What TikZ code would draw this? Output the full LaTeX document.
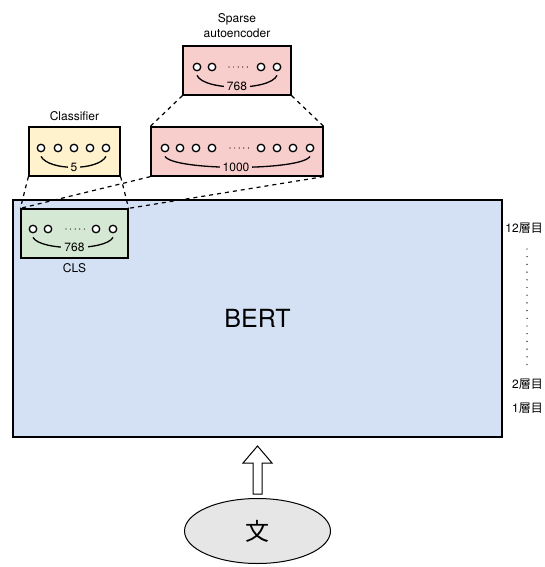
\documentclass[tikz,border=0pt]{standalone}
\usepackage{fontspec}
\setmainfont{TeX Gyre Heros}
\newfontfamily\jpfont{Noto Sans CJK JP}
\usepackage{tikz}
\usepackage{xcolor}
\usetikzlibrary{positioning, shapes.geometric}

\definecolor{bertblue}{HTML}{D4E1F5}
\definecolor{clsgreen}{HTML}{D5E8D4}
\definecolor{clfyellow}{HTML}{FFF2CC}
\definecolor{saered}{HTML}{F8CECC}
\definecolor{sentgray}{HTML}{E6E6E6}

\begin{document}
\begin{tikzpicture}[x=1pt, y=-1pt, font=\fontsize{12}{15}\selectfont]
  % Style definitions
  \tikzstyle{box} = [rectangle, draw=black, line width=1.3pt, minimum height=49pt, inner sep=0pt]
  \tikzstyle{neuron} = [circle, draw=black, fill=white, line width=1.3pt, minimum size=7.5pt, inner sep=0pt]
  \tikzstyle{bracecurve} = [line width=1.3pt]
  \tikzstyle{countlabel} = [inner xsep=3pt, inner ysep=0pt]
  \tikzstyle{gapdots} = [line width=1.2pt, line cap=round, dash pattern=on 0pt off 4.6pt]
  \tikzstyle{zoomline} = [line width=1.2pt, dash pattern=on 4pt off 4pt]
  \tikzstyle{layerdots} = [line width=1.4pt, line cap=round, dash pattern=on 0pt off 7.7pt]
  \tikzstyle{boxlabel} = [inner sep=0pt]

  \useasboundingbox (0,0) rectangle (544,567);

  % BERT and CLS
  \node (bert) [box, fill=bertblue, minimum width=489pt, minimum height=237pt] at (257.5,318.5) {\fontsize{25}{30}\selectfont BERT};
  \node (cls) [box, fill=clsgreen, minimum width=107pt] at (74.5,233.5) {};
  \node (clsname) [boxlabel] at (74.5,268) {CLS};
  \foreach \x [count=\i] in {33,48,96,113}
    \node (cl\i) [neuron] at (\x,229) {};
  \draw[gapdots, shorten <=18pt, shorten >=10pt] (cl2.center) -- (cl3.center);
  \draw[bracecurve] ([yshift=-4pt]cl1.south) .. controls (40,251) and (106,251) .. ([yshift=-4pt]cl4.south);
  \node (clnum) [countlabel, fill=clsgreen] at (74.5,247) {768};

  % Classifier
  \node (clf) [box, fill=clfyellow, minimum width=91pt] at (74.5,151.5) {};
  \node (clfname) [boxlabel] at (74.5,116) {Classifier};
  \foreach \x [count=\i] in {41,58,74,90,106}
    \node (cf\i) [neuron] at (\x,148) {};
  \draw[bracecurve] ([yshift=-4pt]cf1.south) .. controls (49,171) and (98,171) .. ([yshift=-4pt]cf5.south);
  \node (cfnum) [countlabel, fill=clfyellow] at (74,167) {5};

  % Sparse autoencoder (hidden layer)
  \node (wide) [box, fill=saered, minimum width=172pt] at (237,151.5) {};
  \foreach \x [count=\i] in {165,180,196,212,261,277,293,310}
    \node (wd\i) [neuron] at (\x,148) {};
  \draw[gapdots, shorten <=18pt, shorten >=11pt] (wd4.center) -- (wd5.center);
  \draw[bracecurve] ([yshift=-4pt]wd1.south) .. controls (174,171) and (301,171) .. ([yshift=-4pt]wd8.south);
  \node (wdnum) [countlabel, fill=saered] at (236,167) {1000};

  % Sparse autoencoder (input)
  \node (sae) [box, fill=saered, minimum width=108pt] at (237,70.5) {};
  \node (saename) [boxlabel, align=center] at (237,26) {Sparse\\autoencoder};
  \foreach \x [count=\i] in {197,212,261,277}
    \node (sa\i) [neuron] at (\x,67) {};
  \draw[gapdots, shorten <=17pt, shorten >=11pt] (sa2.center) -- (sa3.center);
  \draw[bracecurve] ([yshift=-4pt]sa1.south) .. controls (204,91) and (270,91) .. ([yshift=-4pt]sa4.south);
  \node (sanum) [countlabel, fill=saered] at (237,86) {768};

  % Zoom lines
  \draw[zoomline] (sae.south west) -- (wide.north west);
  \draw[zoomline] (sae.south east) -- (wide.north east);
  \draw[zoomline] (wide.south west) -- (cls.north west);
  \draw[zoomline] (wide.south east) -- (cls.north east);
  \draw[zoomline] (clf.south west) -- (cls.north west);
  \draw[zoomline] (clf.south east) -- (cls.north east);

  % Layers
  \node (l12) [boxlabel, anchor=east] at (543,228) {12\jpfont 層目};
  \node (l2) [boxlabel, anchor=east] at (543,384) {2\jpfont 層目};
  \node (l1) [boxlabel, anchor=east] at (543,408) {1\jpfont 層目};
  \draw[layerdots] (527,249) -- (527,372);

  % Input sentence
  \node (sent) [ellipse, draw=black, fill=sentgray, line width=1pt, minimum width=146pt, minimum height=65pt] at (257.5,531) {\jpfont\fontsize{24}{28}\selectfont 文};
  \draw[line width=1pt, fill=white] (253,494) -- (253,463) -- (243,463) -- (257.5,446) -- (272,463) -- (262,463) -- (262,494) -- cycle;
\end{tikzpicture}
\end{document}
